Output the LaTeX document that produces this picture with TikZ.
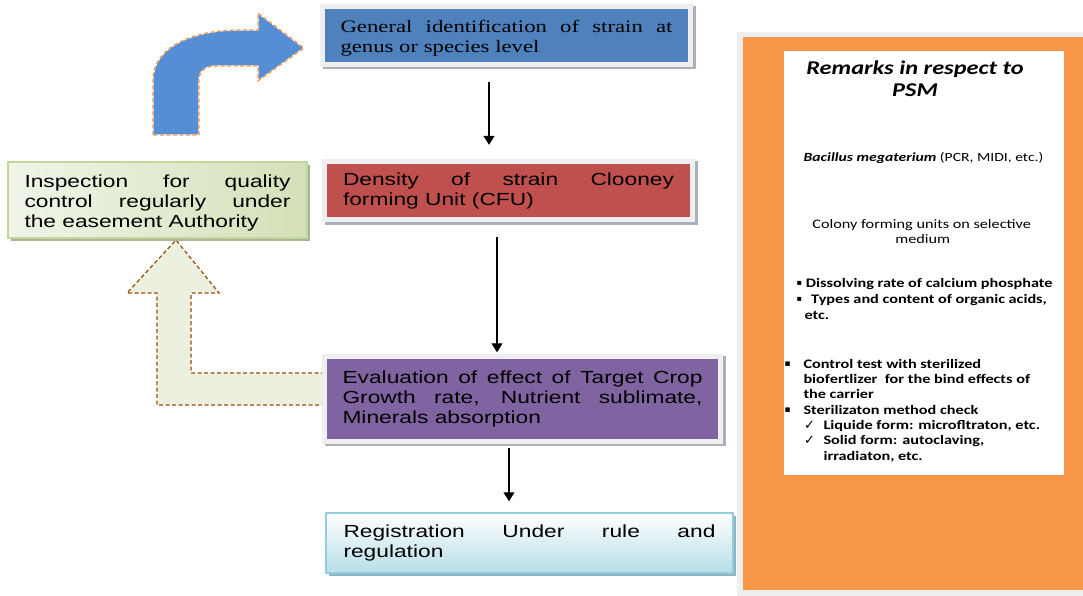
\documentclass[tikz,border=0pt]{standalone}
\usepackage{fontspec}
\setmainfont{Liberation Sans}
\newfontfamily\arialS[FakeStretch=1.3]{Liberation Sans}
\newfontfamily\timesS[FakeStretch=1.3]{Liberation Serif}
\newfontfamily\calS[FakeStretch=1.25]{Carlito}
\newfontfamily\symS{DejaVu Sans}
\usetikzlibrary{shadows,arrows.meta}
\hyphenpenalty=10000
\exhyphenpenalty=10000
\tolerance=10000
\hbadness=10000
\definecolor{bluebox}{HTML}{4F81BD}
\definecolor{redbox}{HTML}{C0504D}
\definecolor{purplebox}{HTML}{8064A2}
\definecolor{orangep}{HTML}{F79646}
\definecolor{arrowblue}{HTML}{558ED5}
\definecolor{greenlt}{HTML}{F0F5E8}
\definecolor{greenmd}{HTML}{D3E1B8}
\definecolor{greenarr}{HTML}{EBF1DE}
\definecolor{greenbd}{HTML}{C3D69B}
\definecolor{brownd}{HTML}{984807}
\definecolor{reglt}{HTML}{B7DEE8}
\definecolor{regbd}{HTML}{93CDDD}
\definecolor{framecol}{HTML}{EFEFEF}
\definecolor{shadowcol}{HTML}{A9AEB8}
\definecolor{greenshadow}{HTML}{A9B596}
\definecolor{regshadow}{HTML}{8FB4C2}
\begin{document}
\begin{tikzpicture}[x=1pt,y=-1pt,
  framed/.style={rectangle, inner sep=0pt, align=justify,
    drop shadow={shadow xshift=2.5pt, shadow yshift=-2.5pt, opacity=1, fill=shadowcol, draw=shadowcol, line width=10pt},
    preaction={draw=framecol, line width=10pt}},
  plainbox/.style={rectangle, inner sep=0pt, align=justify, line width=1.5pt},
  boxtext/.style={inner sep=0pt, align=justify},
  sansbody/.style={font=\arialS\fontsize{17.5}{20}\selectfont},
  serifbody/.style={font=\timesS\fontsize{17.5}{20}\selectfont},
  arr/.style={line width=1.2pt, -{Triangle[length=9pt,width=11pt]}},
  remb/.style={font=\calS\bfseries\fontsize{13}{15.5}\selectfont, anchor=base west, inner sep=0pt},
  bul/.style={font=\symS\fontsize{8}{9}\selectfont, anchor=base west, inner sep=0pt},
  chk/.style={font=\symS\bfseries\fontsize{13}{14}\selectfont, anchor=base west, inner sep=0pt},
  dasharrow/.style={line width=1.2pt, dash pattern=on 4pt off 2.5pt},
  underlay/.style={line width=1.2pt, draw=white}
]
\useasboundingbox (0,0) rectangle (1083,596);
\fill[white] (0,0) rectangle (1083,596);

% remarks panel
\fill[framecol] (737,32) rectangle (1083,596);
\fill[orangep] (743,37) rectangle (1083,590);
\node[fill=white, inner sep=0pt, minimum width=280pt, minimum height=424pt] (rbox) at (924,263) {};

\node[font=\calS\bfseries\itshape\fontsize{19.5}{22.5}\selectfont, anchor=base, inner sep=0pt] (t1) at (915,74.3) {Remarks in respect to};
\node[font=\calS\bfseries\itshape\fontsize{19.5}{22.5}\selectfont, anchor=base, inner sep=0pt] (t2) at (915,96.7) {PSM};
\node[font=\calS\fontsize{12.5}{15}\selectfont, anchor=base, inner sep=0pt] (r1) at (923.5,161.7) {{\bfseries\itshape Bacillus megaterium} (PCR, MIDI, etc.)};
\node[font=\calS\fontsize{13}{15.5}\selectfont, anchor=base, inner sep=0pt] (r2) at (921.7,228.5) {Colony forming units on selective};
\node[font=\calS\fontsize{13}{15.5}\selectfont, anchor=base, inner sep=0pt] (r3) at (922.8,243) {medium};

\node[bul] (u1) at (796.5,285.7) {▪};
\node[remb] (r4) at (805.7,287.7) {Dissolving rate of calcium phosphate};
\node[bul] (u2) at (796.5,301.3) {▪};
\node[remb] (r5) at (811,303.3) {Types and content of organic acids,};
\node[remb] (r6) at (804.3,319) {etc.};

\node[bul, font=\symS\fontsize{9}{10}\selectfont] (u3) at (784.5,366.8) {▪};
\node[remb] (r7) at (803.3,368.3) {Control test with sterilized};
\node[remb] (r8) at (803.3,383.3) {biofertlizer\ \ for the bind effects of};
\node[remb] (r9) at (803.3,398.3) {the carrier};
\node[bul, font=\symS\fontsize{9}{10}\selectfont] (u4) at (784.5,412.5) {▪};
\node[remb] (r10) at (803.3,414) {Sterilizaton method check};
\node[chk] (c1) at (804,429.3) {✓};
\node[remb] (r11) at (823.3,429.3) {Liquide form: microfltraton, etc.};
\node[chk] (c2) at (804,444.3) {✓};
\node[remb] (r12) at (823.3,444.3) {Solid form: autoclaving,};
\node[remb] (r13) at (823.3,460) {irradiaton, etc.};

% green dashed return arrow
\fill[greenarr] (325,373) -- (191,373) -- (191,293) -- (219,293) -- (176,240) -- (127,293) -- (157,293) -- (157,405) -- (325,405) -- cycle;
\draw[underlay] (325,373) -- (191,373) -- (191,293) -- (219,293) -- (176,240) -- (127,293) -- (157,293) -- (157,405) -- (325,405);
\draw[dasharrow, brownd] (325,373) -- (191,373) -- (191,293) -- (219,293) -- (176,240) -- (127,293) -- (157,293) -- (157,405) -- (325,405);

% blue curved arrow
\path[fill=arrowblue, underlay, postaction={draw=orangep, dasharrow}]
  (153,135) -- (153,80) .. controls (153,48) and (190,30) .. (240,30) -- (258,30) -- (258,13) -- (304,48) -- (258,81) -- (258,66) -- (215,66) .. controls (206,66) and (199,71) .. (199,80) -- (199,135) -- cycle;

% boxes
\node[framed, fill=bluebox, minimum width=363pt, minimum height=53pt] (b1) at (506.5,35.5) {};
\node[boxtext, serifbody, text width=332pt] (b1t) at ([yshift=-3pt]b1.center)
  {General identification of strain at\linebreak genus or species level};
\node[framed, sansbody, fill=redbox, minimum width=363pt, minimum height=53pt, text width=331pt] (b2) at (508.5,190.5)
  {Density of strain Clooney\linebreak forming Unit (CFU)};
\node[framed, sansbody, fill=purplebox, minimum width=391pt, minimum height=80pt, text width=360pt] (b3) at (522.5,398.5)
  {Evaluation of effect of Target Crop\linebreak Growth rate, Nutrient sublimate,\linebreak Minerals absorption};
\node[plainbox, sansbody, top color=white, bottom color=reglt, draw=regbd,
  drop shadow={shadow xshift=3pt, shadow yshift=-3pt, opacity=1, fill=regshadow},
  minimum width=407pt, minimum height=60pt, text width=372pt] (b4) at (529.5,543)
  {Registration Under rule and\linebreak regulation};
\node[plainbox, left color=greenlt, right color=greenmd, draw=greenbd,
  drop shadow={shadow xshift=3pt, shadow yshift=-3pt, opacity=1, fill=greenshadow},
  minimum width=299pt, minimum height=76pt] (b5) at (157.5,200) {};
\node[boxtext, sansbody, text width=266pt] (b5t) at ([yshift=-2.5pt]b5.center)
  {Inspection for quality\linebreak control regularly under\linebreak the easement Authority};

% connectors
\draw[arr, shorten <=20pt, shorten >=19pt] ([xshift=-17.5pt]b1.south) -- ([xshift=-19.5pt]b2.north);
\draw[arr, shorten <=20pt, shorten >=6pt] ([xshift=-11.5pt]b2.south) -- ([xshift=-25.5pt]b3.north);
\draw[arr, shorten <=9.5pt, shorten >=11pt] ([xshift=-13.5pt]b3.south) -- ([xshift=-20.5pt]b4.north);
\end{tikzpicture}
\end{document}
